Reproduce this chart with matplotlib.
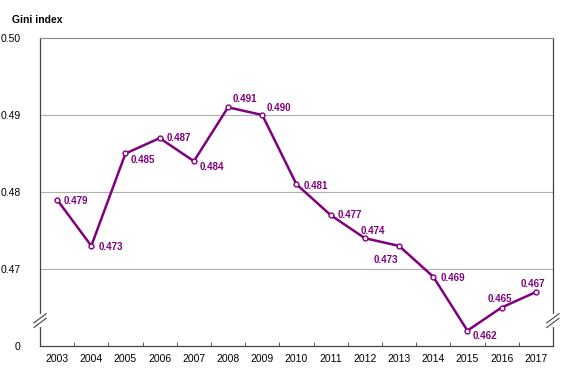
import matplotlib.pyplot as plt
import numpy as np

plt.rcParams['font.family'] = ['Liberation Sans', 'DejaVu Sans']

years = ['2003', '2004', '2005', '2006', '2007', '2008', '2009', '2010',
         '2011', '2012', '2013', '2014', '2015', '2016', '2017']
gini = [0.479, 0.473, 0.485, 0.487, 0.484, 0.491, 0.490, 0.481,
        0.477, 0.474, 0.473, 0.469, 0.462, 0.465, 0.467]
ytick_vals = [0.46, 0.47, 0.48, 0.49, 0.50]
ytick_labels = ['0', '0.47', '0.48', '0.49', '0.50']

# label offsets in points (dx, dy) and alignment
offsets = [(5, -1, 'left'), (5, -1, 'left'), (4, -5, 'left'), (5, 0, 'left'),
           (4, -4, 'left'), (3, 6, 'left'), (3, 5, 'left'), (5, -1, 'left'),
           (5, 0, 'left'), (-3, 5, 'left'), (-1, -10, 'right'), (5, -1, 'left'),
           (4, -4, 'left'), (-10, 6, 'left'), (-11, 6, 'left')]

purple = '#800080'

fig = plt.figure(figsize=(5.7, 3.9), dpi=100)
ax = fig.add_axes([0.0702, 0.1128, 0.8998, 0.7898])

x = np.arange(len(years))
ax.plot(x, gini, color=purple, lw=1.8, marker='o', ms=3.5,
        mfc='white', mec=purple, mew=1, zorder=3)

for xi, yi, (dx, dy, ha) in zip(x, gini, offsets):
    ax.annotate('%.3f' % yi, (xi, yi), xytext=(dx, dy), textcoords='offset points',
                ha=ha, va='center', fontsize=7, fontweight='bold', color=purple)

ax.set_xlim(-0.5, len(years) - 0.5)
ax.set_ylim(0.46, 0.50)
ax.set_yticks(ytick_vals)
ax.set_yticklabels(ytick_labels, fontsize=7.5)
ax.tick_params(axis='y', length=0, pad=14)
ax.set_xticks(x)
ax.set_xticklabels(years, fontsize=7.5)
ax.tick_params(axis='x', which='major', length=0, pad=6)
ax.set_xticks(np.arange(0.5, len(years) - 1, 1), minor=True)
ax.tick_params(axis='x', which='minor', direction='in', length=3, color='#444444')

for v in [0.47, 0.48, 0.49]:
    ax.axhline(v, color='#b0b0b0', lw=0.8, zorder=1)
ax.spines['top'].set_color('#888888')
for s in ['left', 'right', 'bottom']:
    ax.spines[s].set_color('#444444')
    ax.spines[s].set_linewidth(0.9)

# axis break marks
yb = 0.4633
for xb in [-0.5, len(years) - 0.5]:
    ax.plot([xb, xb], [yb - 0.0006, yb + 0.0006], color='white', lw=3,
            clip_on=False, zorder=4)
    for d in [-0.0003, 0.0003]:
        ax.plot([xb - 0.18, xb + 0.18], [yb + d - 0.0006, yb + d + 0.0006],
                color='#444444', lw=0.8, clip_on=False, zorder=5)

fig.text(0.021, 0.948, 'Gini index', fontsize=7.5, fontweight='bold', va='center')

plt.savefig('out.png', dpi=100)
